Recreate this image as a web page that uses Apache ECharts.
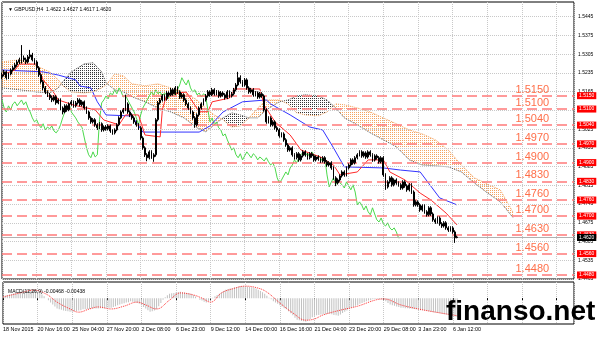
<!DOCTYPE html>
<html><head><meta charset="utf-8">
<script src="https://cdn.jsdelivr.net/npm/echarts@6/dist/echarts.min.js"></script>
<style>html,body{margin:0;padding:0;background:#fff}#c{width:600px;height:338px}</style>
</head><body><div id="c"></div>
<script>
// ---------- data (prices in pips: 1.5150 -> 15150) ----------
const timeLabels = ['18 Nov 2015','20 Nov 16:00','25 Nov 04:00','27 Nov 20:00','2 Dec 08:00','6 Dec 23:00','9 Dec 12:00','14 Dec 00:00','16 Dec 16:00','21 Dec 04:00','23 Dec 20:00','29 Dec 08:00','3 Jan 23:00','6 Jan 12:00'];
const priceTicks = [15445,15375,15305,15235,15165,15095,15025,14955,14885,14815,14745,14675,14605,14535,14465];
const levels = [15150,15100,15040,14970,14900,14830,14760,14700,14630,14560,14480];
const lastPrice = 14620;
const macdTickValues = [40.3, 0, -64.6];
const macdTickLabels = ['0.00403','0.00','-0.00646'];
// candles: [open, close, low, high]
const candles = [
[15220,15228,15212,15236],[15228,15239,15222,15246],[15239,15217,15210,15244],[15217,15231,15212,15236],[15231,15246,15226,15252],
[15246,15254,15240,15262],[15254,15265,15248,15272],[15265,15276,15258,15283],[15276,15284,15268,15292],[15284,15291,15270,15339],
[15291,15284,15276,15300],[15284,15276,15268,15292],[15276,15295,15270,15302],[15295,15302,15288,15321],[15302,15284,15278,15310],
[15284,15276,15266,15290],[15276,15254,15246,15282],[15254,15228,15220,15260],[15228,15202,15195,15234],[15202,15179,15170,15208],
[15179,15164,15156,15186],[15164,15153,15145,15170],[15153,15142,15134,15160],[15142,15134,15126,15150],[15134,15146,15128,15152],
[15146,15123,15116,15152],[15123,15134,15118,15140],[15134,15104,15096,15140],[15104,15089,15080,15110],[15089,15112,15084,15118],
[15112,15097,15090,15118],[15097,15119,15092,15125],[15119,15127,15112,15134],[15127,15112,15105,15132],[15112,15123,15106,15130],
[15123,15134,15117,15141],[15134,15116,15110,15140],[15116,15127,15110,15133],[15127,15104,15098,15132],[15104,15089,15082,15110],
[15089,15067,15060,15094],[15067,15052,15045,15073],[15052,15060,15046,15066],[15060,15041,15034,15066],[15041,15030,15022,15047],
[15030,15045,15025,15051],[15045,15022,15015,15050],[15022,15033,15016,15039],[15033,15026,15019,15040],[15026,15037,15020,15043],
[15037,15018,15011,15042],[15018,15011,15004,15024],[15011,15022,15005,15028],[15022,15041,15017,15047],[15041,15067,15036,15073],
[15067,15089,15062,15095],[15089,15097,15083,15104],[15097,15119,15092,15153],[15119,15089,15082,15125],[15089,15078,15070,15095],
[15078,15067,15060,15084],[15067,15052,15045,15073],[15052,15041,15034,15058],[15041,15030,15022,15047],[15030,14992,14985,15036],
[14992,14955,14948,14998],[14955,14929,14921,14961],[14929,14918,14905,14935],[14918,14940,14912,14946],[14940,14921,14914,14946],
[14921,14929,14903,14935],[14929,15060,14922,15066],[15060,15123,15054,15130],[15123,15134,15117,15141],[15134,15149,15128,15156],
[15149,15138,15131,15155],[15138,15160,15132,15167],[15160,15153,15146,15166],[15153,15172,15148,15179],[15172,15157,15150,15178],
[15157,15179,15152,15186],[15179,15164,15157,15185],[15164,15145,15138,15170],[15145,15153,15139,15160],[15153,15134,15127,15159],
[15134,15119,15112,15140],[15119,15104,15097,15125],[15104,15089,15082,15110],[15089,15067,15060,15095],[15067,15041,15030,15073],
[15041,15078,15035,15084],[15078,15104,15072,15110],[15104,15119,15098,15125],[15119,15134,15113,15140],[15134,15149,15128,15156],
[15149,15164,15143,15171],[15164,15153,15146,15170],[15153,15172,15148,15179],[15172,15157,15150,15178],[15157,15164,15151,15171],
[15164,15149,15142,15170],[15149,15160,15143,15167],[15160,15153,15146,15166],[15153,15142,15135,15159],[15142,15164,15137,15171],
[15164,15149,15142,15170],[15149,15157,15143,15164],[15157,15172,15151,15179],[15172,15190,15166,15197],[15190,15217,15185,15239],
[15217,15202,15195,15226],[15202,15190,15183,15208],[15190,15209,15184,15216],[15209,15179,15172,15215],[15179,15164,15157,15185],
[15164,15172,15158,15179],[15172,15153,15146,15178],[15153,15160,15147,15167],[15160,15145,15138,15166],[15145,15157,15139,15164],
[15157,15149,15142,15163],[15149,15097,15090,15155],[15097,15052,15045,15103],[15052,15067,15046,15073],[15067,15041,15034,15073],
[15041,15052,15035,15058],[15052,15030,15023,15058],[15030,15022,15015,15036],[15022,15000,14993,15028],[15000,15007,14994,15013],
[15007,14985,14978,15013],[14985,14966,14959,14991],[14966,14947,14940,14972],[14947,14955,14941,14961],[14955,14929,14922,14961],
[14929,14918,14911,14935],[14918,14933,14912,14939],[14933,14910,14903,14939],[14910,14925,14904,14931],[14925,14940,14919,14946],
[14940,14929,14922,14946],[14929,14918,14911,14935],[14918,14933,14912,14939],[14933,14925,14918,14939],[14925,14910,14903,14931],
[14910,14921,14904,14927],[14921,14914,14907,14927],[14914,14906,14899,14920],[14906,14918,14900,14924],[14918,14903,14896,14924],
[14903,14891,14884,14909],[14891,14899,14885,14905],[14899,14880,14873,14905],[14880,14843,14836,14886],[14843,14824,14812,14849],
[14824,14835,14818,14841],[14835,14850,14829,14856],[14850,14865,14844,14871],[14865,14854,14847,14871],[14854,14880,14848,14886],
[14880,14891,14874,14897],[14891,14910,14885,14916],[14910,14899,14892,14916],[14899,14918,14893,14924],[14918,14929,14912,14935],
[14929,14940,14923,14946],[14940,14925,14918,14946],[14925,14936,14919,14942],[14936,14921,14914,14942],[14921,14940,14915,14946],
[14940,14929,14922,14946],[14929,14910,14903,14935],[14910,14925,14904,14931],[14925,14918,14911,14931],[14918,14903,14896,14924],
[14903,14918,14897,14924],[14918,14854,14847,14924],[14854,14809,14798,14860],[14809,14828,14803,14834],[14828,14843,14822,14849],
[14843,14817,14810,14849],[14817,14835,14811,14841],[14835,14824,14817,14841],[14824,14817,14810,14830],[14817,14805,14798,14823],
[14805,14828,14799,14834],[14828,14813,14806,14834],[14813,14798,14791,14819],[14798,14817,14792,14823],[14817,14790,14783,14823],
[14790,14742,14735,14796],[14742,14753,14736,14759],[14753,14742,14735,14759],[14742,14723,14716,14748],[14723,14738,14717,14744],
[14738,14716,14709,14744],[14716,14705,14698,14722],[14705,14731,14699,14737],[14731,14708,14701,14737],[14708,14686,14679,14714],
[14686,14678,14671,14692],[14678,14693,14672,14699],[14693,14671,14664,14699],[14671,14663,14656,14677],[14663,14675,14657,14681],
[14675,14656,14649,14681],[14656,14648,14641,14662],[14648,14656,14642,14662],[14656,14641,14634,14662],[14641,14619,14600,14647],
[14622,14620,14617,14627]
];
// Ichimoku lines [barIndex, price]
const tenkan = [[0,15228],[6,15246],[8,15268],[16,15268],[19,15209],[24,15160],[26,15134],[33,15115],[43,15097],[47,15059],[54,15041],[57,15078],[63,15078],[66,15003],[73,14996],[74,15097],[76,15153],[85,15164],[91,15090],[95,15090],[97,15127],[105,15141],[107,15175],[119,15175],[121,15115],[126,15052],[133,15003],[138,14947],[147,14921],[153,14891],[156,14854],[164,14865],[169,14910],[176,14910],[179,14865],[186,14835],[193,14786],[198,14760],[205,14711],[210,14667]];
const kijun = [[0,15246],[19,15239],[26,15227],[34,15209],[36,15186],[41,15179],[44,15127],[48,15078],[60,15074],[65,15014],[91,15014],[96,15037],[102,15089],[111,15127],[122,15134],[124,15119],[133,15078],[142,15033],[148,15022],[153,14955],[158,14884],[176,14880],[184,14872],[193,14865],[202,14768],[210,14742]];
const chikouShift = 26;
const cloudX = [0,8,16,22,26,28,32,38,42,46,48,52,56,60,66,72,78,84,90,94,98,102,106,110,114,118,122,128,132,136,140,146,150,154,158,164,170,176,182,188,194,200,206,212,218,224,230,236];
const spanA  = [15276,15284,15261,15239,15209,15187,15164,15160,15164,15179,15190,15231,15224,15194,15187,15194,15179,15164,15134,15104,15078,15060,15033,15037,15067,15104,15134,15134,15119,15086,15078,15075,15089,15119,15116,15104,15089,15067,15045,15022,15007,14985,14947,14891,14843,14820,14798,14712];
const spanB  = [15179,15172,15164,15160,15179,15202,15239,15269,15273,15239,15198,15172,15164,15146,15127,15104,15089,15067,15030,15015,15041,15067,15086,15078,15067,15067,15097,15127,15134,15149,15153,15149,15134,15104,15067,15041,15011,14985,14959,14910,14891,14888,14884,14865,14824,14787,14753,14693];
// MACD (units of 0.0001)
const macdMain = [5,6,8,9,10,12,13,14,16,17,18,19,20,21,21,19,16,13,9,5,0,-5,-11,-16,-21,-26,-28,-29,-31,-32,-33,-34,-34,-33,-32,-31,-30,-28,-28,-27,-27,-26,-26,-26,-26,-25,-25,-25,-24,-24,-24,-22,-20,-18,-16,-14,-13,-11,-10,-8,-9,-10,-12,-14,-18,-22,-26,-30,-34,-33,-31,-28,-20,-12,-4,2,7,11,12,13,14,15,16,15,14,13,12,11,8,4,0,-4,-6,-9,-11,-7,-3,1,5,8,11,14,18,21,23,24,25,27,28,29,30,30,29,29,28,27,26,24,21,18,15,11,6,1,-3,-8,-11,-14,-18,-21,-25,-28,-33,-38,-43,-49,-54,-55,-57,-58,-59,-56,-52,-48,-44,-43,-42,-41,-40,-40,-39,-39,-40,-42,-43,-44,-41,-37,-34,-31,-27,-24,-22,-19,-17,-14,-12,-10,-8,-6,-5,-3,-2,-2,-3,-3,-4,-8,-12,-16,-18,-19,-21,-22,-24,-24,-25,-25,-26,-26,-27,-28,-29,-30,-30,-31,-32,-33,-34,-35,-36,-37,-38,-39,-40,-41,-42,-43,-45,-46,-47];
const macdSignal = [[0,3],[8,13],[14,20],[20,10],[25,-10],[31,-27],[35,-35],[40,-27],[44,-22],[50,-27],[56,-20],[62,-10],[66,-17],[71,-27],[77,-5],[82,13],[88,8],[92,0],[96,-10],[101,13],[106,23],[112,30],[118,25],[122,15],[128,-12],[134,-37],[140,-55],[144,-52],[148,-42],[156,-30],[164,-20],[172,-5],[176,-2],[184,-17],[192,-27],[200,-35],[210,-44]];

// ---------- chart ----------
const SLOTS = 265;
const cats = Array.from({length: SLOTS}, (_, i) => String(i));
const fmtP = v => (v / 10000).toFixed(4);
function dots(color) {
  const c = document.createElement('canvas'); c.width = 2; c.height = 2;
  const g = c.getContext('2d'); g.fillStyle = color; g.fillRect(0, 0, 1, 1);
  return c;
}
const orangePat = {image: dots('#F4A460'), repeat: 'repeat'};
const darkPat = {image: dots('#333333'), repeat: 'repeat'};
const cloudData = cloudX.map((x, k) => [x, spanA[k], spanB[k]]);
function renderCloud(params, api) {
  const k = params.dataIndex;
  if (k >= cloudX.length - 1) return {type: 'group', children: []};
  const x0 = cloudX[k], x1 = cloudX[k + 1], a0 = spanA[k], a1 = spanA[k + 1], b0 = spanB[k], b1 = spanB[k + 1];
  const d0 = a0 - b0, d1 = a1 - b1;
  const children = [];
  const poly = (pts, up) => children.push({type: 'polygon', shape: {points: pts.map(p => api.coord(p))}, style: {fill: up ? orangePat : darkPat, stroke: null}});
  if (d0 * d1 < 0) {
    const t = d0 / (d0 - d1), xm = x0 + (x1 - x0) * t, ym = a0 + (a1 - a0) * t;
    poly([[x0, a0], [xm, ym], [x0, b0]], d0 > 0);
    poly([[xm, ym], [x1, a1], [x1, b1]], d1 > 0);
  } else poly([[x0, a0], [x1, a1], [x1, b1], [x0, b0]], d0 + d1 >= 0);
  return {type: 'group', children};
}
const closes = candles.map(c => c[1]);
const chikou = closes.map((c, i) => [i - chikouShift, c]).filter(p => p[0] >= 0);

const chart = echarts.init(document.getElementById('c'), null, {renderer: 'canvas'});
const font = 'Liberation Sans, Arial, sans-serif';
chart.setOption({
  animation: false,
  backgroundColor: '#fff',
  textStyle: {fontFamily: font},
  title: [
    {text: '\u25BC GBPUSD,H4  1.4622 1.4627 1.4617 1.4620', left: 3, top: 2, textStyle: {fontSize: 5, fontWeight: 'normal', color: '#000', fontFamily: font}},
    {text: 'MACD(12,26,9) -0.00468 -0.00438', left: 3, top: 284, textStyle: {fontSize: 5, fontWeight: 'normal', color: '#000', fontFamily: font}},
    {text: 'finanso.net', left: 441, top: 293, textStyle: {fontSize: 28, fontWeight: 'bold', color: '#000', fontFamily: font}}
  ],
  grid: [
    {left: 2, right: 26, top: 2, height: 277, show: true, borderColor: '#000', borderWidth: 1, backgroundColor: '#fff'},
    {left: 2, right: 26, top: 282, height: 42, show: true, borderColor: '#000', borderWidth: 1, backgroundColor: '#fff'}
  ],
  xAxis: [
    {type: 'category', gridIndex: 0, data: cats, boundaryGap: false, axisLine: {show: false}, axisTick: {show: false}, axisLabel: {show: false}, splitLine: {show: false}},
    {type: 'value', gridIndex: 0, min: 0, max: SLOTS - 1, interval: 16, axisLine: {show: false}, axisTick: {show: false}, axisLabel: {show: false}, splitLine: {show: true, lineStyle: {color: '#c8c8c8', type: 'dotted', width: 1}}},
    {type: 'category', gridIndex: 1, data: cats, boundaryGap: false, axisLine: {show: false}, axisTick: {show: true, interval: 15, length: 2, lineStyle: {color: '#000'}},
      axisLabel: {show: true, interval: 15, align: 'left', margin: 3, fontSize: 5.4, color: '#000', fontFamily: font, formatter: (v, idx) => timeLabels[Math.round(idx / 16)] || ''}, splitLine: {show: false}},
    {type: 'value', gridIndex: 1, min: 0, max: SLOTS - 1, interval: 16, axisLine: {show: false}, axisTick: {show: false}, axisLabel: {show: false}, splitLine: {show: true, lineStyle: {color: '#c8c8c8', type: 'dotted', width: 1}}}
  ],
  yAxis: [
    {type: 'value', gridIndex: 0, min: 14465, max: 15500, position: 'right', axisLine: {show: false}, axisTick: {show: false}, axisLabel: {show: false}, splitLine: {show: false}},
    {type: 'value', gridIndex: 1, min: -64.6, max: 40.3, position: 'right', axisLine: {show: false}, axisTick: {show: false}, axisLabel: {show: false}, splitLine: {show: false}}
  ],
  series: [
    {type: 'line', xAxisIndex: 1, yAxisIndex: 0, data: [], silent: true,
      markLine: {silent: true, symbol: 'none', animation: false,
        lineStyle: {color: '#c8c8c8', type: 'dotted', width: 1},
        label: {position: 'end', distance: 4, fontSize: 5, color: '#000', fontFamily: font, formatter: p => fmtP(p.value)},
        data: priceTicks.map(v => ({yAxis: v}))}},
    {type: 'custom', xAxisIndex: 1, yAxisIndex: 0, data: cloudData, renderItem: renderCloud, encode: {x: 0, y: [1, 2]}, silent: true, z: 1},
    {type: 'line', xAxisIndex: 1, yAxisIndex: 0, data: cloudX.map((x, k) => [x, spanA[k]]), symbol: 'none', lineStyle: {color: '#F4A460', width: 1, type: 'dotted'}, silent: true, z: 2},
    {type: 'line', xAxisIndex: 1, yAxisIndex: 0, data: cloudX.map((x, k) => [x, spanB[k]]), symbol: 'none', lineStyle: {color: '#555', width: 1, type: 'dotted'}, silent: true, z: 2},
    {type: 'line', xAxisIndex: 1, yAxisIndex: 0, data: [], silent: true, z: 3,
      markLine: {silent: true, symbol: 'none', animation: false,
        lineStyle: {color: '#FF7A7A', type: [10, 5], width: 1.5},
        label: {position: 'end', distance: 3, fontSize: 5, color: '#fff', backgroundColor: '#FF0000', padding: [1, 2], fontFamily: font, formatter: p => fmtP(p.value)},
        data: levels.map(v => ({yAxis: v}))}},
    {type: 'line', xAxisIndex: 1, yAxisIndex: 0, data: [], silent: true, z: 3,
      markLine: {silent: true, symbol: 'none', animation: false,
        lineStyle: {color: '#b0b0b0', type: 'solid', width: 1},
        label: {position: 'end', distance: 3, fontSize: 5, color: '#fff', backgroundColor: '#000', padding: [1, 2], fontFamily: font, formatter: p => fmtP(p.value)},
        data: [{yAxis: lastPrice}]}},
    {type: 'line', xAxisIndex: 1, yAxisIndex: 0, data: chikou, symbol: 'none', lineStyle: {color: '#4CD94C', width: 1}, silent: true, z: 4},
    {type: 'line', xAxisIndex: 1, yAxisIndex: 0, data: kijun, symbol: 'none', lineStyle: {color: '#3333FF', width: 1}, silent: true, z: 4},
    {type: 'line', xAxisIndex: 1, yAxisIndex: 0, data: tenkan, symbol: 'none', lineStyle: {color: '#FF2A2A', width: 1}, silent: true, z: 4},
    {type: 'candlestick', xAxisIndex: 0, yAxisIndex: 0, data: candles, barWidth: 1.4, silent: true, z: 5,
      itemStyle: {color: '#fff', color0: '#000', borderColor: '#000', borderColor0: '#000', borderWidth: 1}},
    {type: 'scatter', xAxisIndex: 1, yAxisIndex: 0, data: levels.map(v => [237, v]), symbolSize: 0, silent: true, z: 6,
      label: {show: true, position: 'right', distance: 0, offset: [0, -6], fontSize: 11, color: '#FF4A1A', fontFamily: font, formatter: p => fmtP(p.value[1])}},
    {type: 'bar', xAxisIndex: 2, yAxisIndex: 1, data: macdMain, barWidth: 1, itemStyle: {color: '#c0c0c0'}, silent: true},
    {type: 'line', xAxisIndex: 3, yAxisIndex: 1, data: macdSignal, smooth: 0.4, symbol: 'none', lineStyle: {color: '#FF3030', width: 1, type: 'dotted'}, silent: true},
    {type: 'line', xAxisIndex: 3, yAxisIndex: 1, data: [], silent: true,
      markLine: {silent: true, symbol: 'none', animation: false, lineStyle: {opacity: 0},
        label: {position: 'end', distance: 4, fontSize: 5, color: '#000', fontFamily: font, formatter: p => macdTickLabels[macdTickValues.indexOf(p.value)]},
        data: [{yAxis: macdTickValues[0], label: {offset: [0, 3]}}, {yAxis: macdTickValues[1]}, {yAxis: macdTickValues[2], label: {offset: [0, -7]}}]}}
  ]
});
</script>
</body></html>
